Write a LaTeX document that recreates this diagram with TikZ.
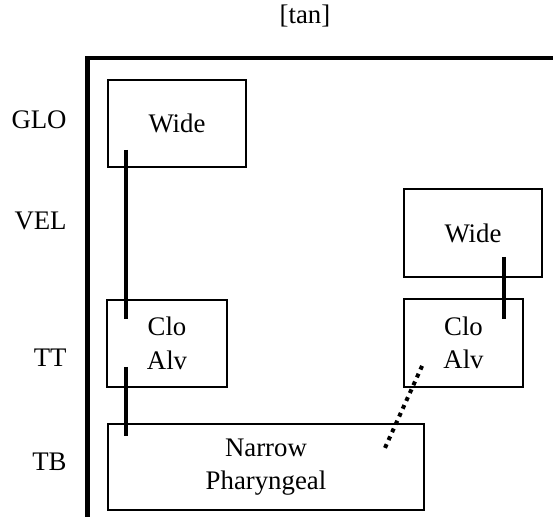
\documentclass[tikz,border=0pt]{standalone}
\usepackage{fontspec}
\setmainfont{Liberation Serif}
\usetikzlibrary{calc}

\tikzset{
  gest/.style={draw, line width=0.9pt, align=center, inner sep=0pt,
    font=\fontsize{13.4}{16.8}\selectfont},
  tier/.style={anchor=east, inner sep=0pt, font=\fontsize{13.4}{16}\selectfont},
  assoc/.style={line width=2pt},
  weak/.style={line width=2pt, dash pattern=on 2pt off 2.3pt},
}

\begin{document}
\begin{tikzpicture}[x=0.5pt,y=-0.5pt]
    \useasboundingbox (0,0) rectangle (553,517);
    \node[inner sep=0pt, font=\fontsize{13.4}{16}\selectfont] (title) at (305,16) {[tan]};
    % tiers
    \node[tier] (glo) at (67,120) {GLO};
    \node[tier] (vel) at (67,221) {VEL};
    \node[tier] (tt) at (67,358) {TT};
    \node[tier] (tb) at (67,462) {TB};
    \draw[line width=2.4pt] (87.5,517) -- (87.5,58) -- (553,58);
    % gestures
    \node[gest, minimum width=69pt, minimum height=43.5pt] (gloWide) at (177,123.5) {Wide};
    \node[gest, minimum width=69pt, minimum height=44pt] (velWide) at (473,233) {Wide};
    \node[gest, minimum width=60pt, minimum height=43.5pt] (ttCloA) at (167,343.5) {Clo\\Alv};
    \node[gest, minimum width=59.5pt, minimum height=44pt] (ttCloB) at (463.5,343) {Clo\\Alv};
    \node[gest, minimum width=158pt, minimum height=43pt] (tbNarrow) at (266,467) {Narrow\\Pharyngeal};
    % associations
    \draw[assoc] ($(gloWide.south west)+(19,-18)$) -- ($(ttCloA.north west)+(20,20)$);
    \draw[assoc] ($(ttCloA.south west)+(20,-21)$) -- ($(tbNarrow.north west)+(19,13)$);
    \draw[assoc] ($(velWide.south east)+(-39,-21)$) -- ($(ttCloB.north east)+(-20,21)$);
    \draw[weak] ($(ttCloB.south west)+(19,-22)$) -- ($(tbNarrow.north east)+(-40,25)$);
\end{tikzpicture}
\end{document}
